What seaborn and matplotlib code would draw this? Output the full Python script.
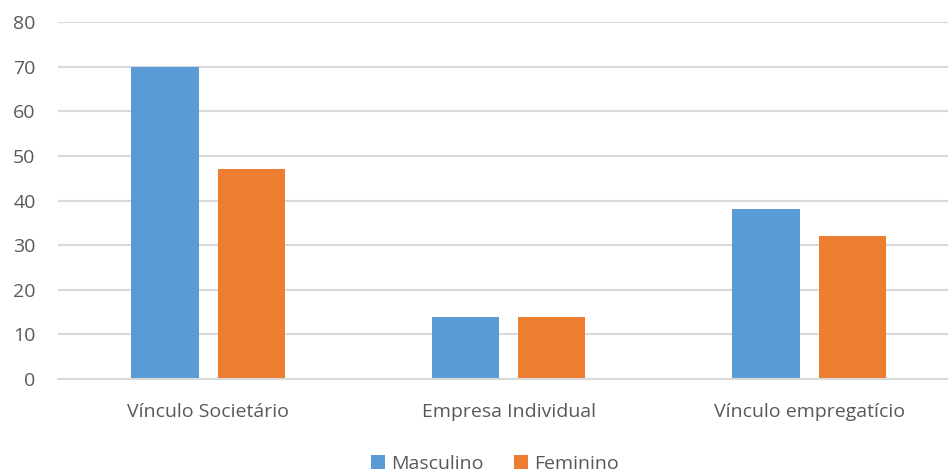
import matplotlib
matplotlib.use("Agg")
import matplotlib.pyplot as plt
import seaborn as sns
import pandas as pd

categories = ["Vínculo Societário", "Empresa Individual", "Vínculo empregatício"]
masculino = [70, 14, 38]
feminino = [47, 14, 32]
series_names = ["Masculino", "Feminino"]
yticks = [0, 10, 20, 30, 40, 50, 60, 70, 80]

df = pd.DataFrame({
    "Categoria": categories * 2,
    "Valor": masculino + feminino,
    "Sexo": [series_names[0]] * 3 + [series_names[1]] * 3,
})

sns.set_style("white")
plt.rcParams['font.family'] = ['Open Sans', 'DejaVu Sans']
text_color = "#595959"
grid_color = "#D9D9D9"

fig = plt.figure(figsize=(9.48, 4.73), dpi=100)
ax = fig.add_axes([0.061, 0.1987, 0.951, 0.7548])

sns.barplot(data=df, x="Categoria", y="Valor", hue="Sexo",
            palette=["#5B9BD5", "#ED7D31"], width=0.573, gap=0.22,
            ax=ax, legend=True, saturation=1, edgecolor="none")

ax.set_ylim(0, 80)
ax.set_xlim(-0.5, 2.5)
ax.set_yticks(yticks)
ax.set_xlabel("")
ax.set_ylabel("")
ax.yaxis.grid(True, color=grid_color, linewidth=1.5)
ax.set_axisbelow(True)
for s in ["top", "right", "left"]:
    ax.spines[s].set_visible(False)
ax.spines["bottom"].set_color(grid_color)
ax.spines["bottom"].set_linewidth(1.5)
ax.tick_params(axis="y", length=0, pad=16, labelsize=14, labelcolor=text_color)
ax.tick_params(axis="x", length=0, pad=17, labelsize=14, labelcolor=text_color)

handles, labels = ax.get_legend_handles_labels()
ax.get_legend().remove()
fig.legend(handles, labels, loc="lower center", bbox_to_anchor=(0.522, -0.036),
           ncol=2, frameon=False, fontsize=14, labelcolor=text_color,
           handlelength=0.7, handleheight=0.7, handletextpad=0.3,
           columnspacing=1.6)

fig.savefig("out.png", dpi=100)
